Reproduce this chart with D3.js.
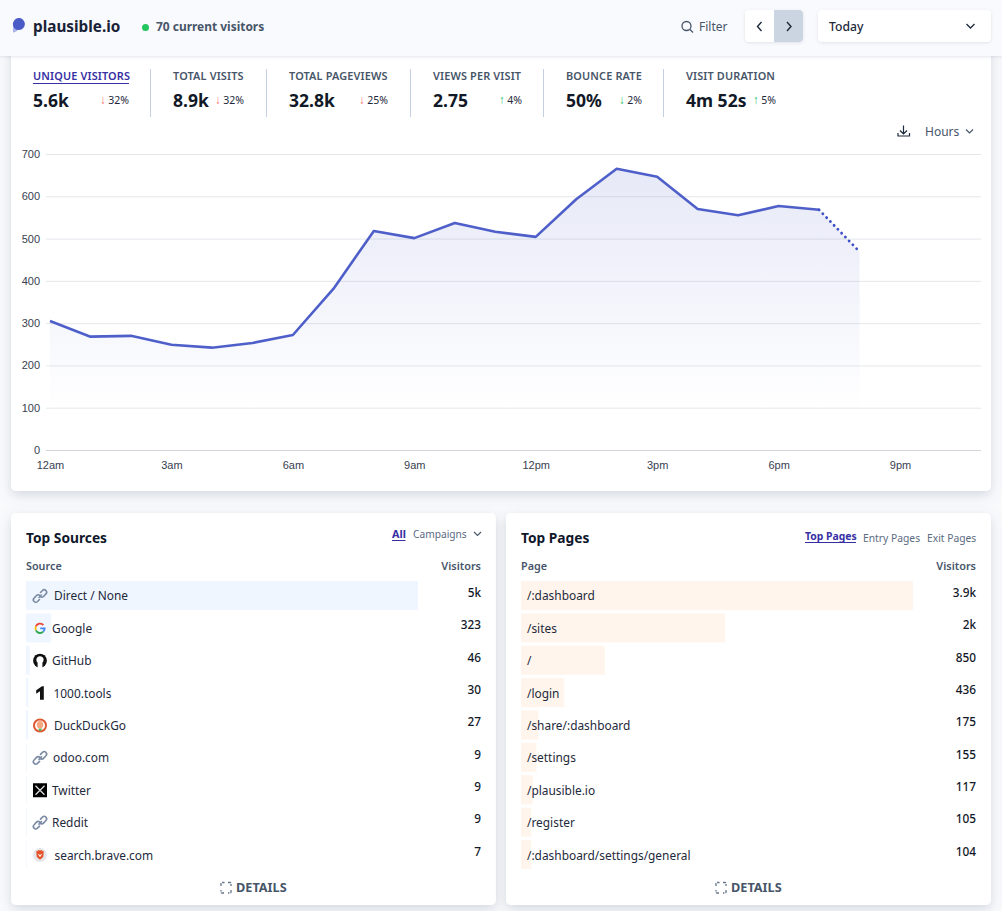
<!DOCTYPE html>
<html><head><meta charset="utf-8">
<script src="https://cdn.jsdelivr.net/npm/d3@7/dist/d3.min.js"></script>
<style>
html,body{margin:0;padding:0;background:#f9fafc;overflow:hidden}
svg{display:block}
text{font-family:"Noto Sans",sans-serif}
.tick text{font-family:"Liberation Sans",Arial,sans-serif}
</style></head><body>
<svg id="c" width="1002" height="911"></svg>
<script>
const hourLabels=["12am","3am","6am","9am","12pm","3pm","6pm","9pm"];
const hourTicks=[0,3,6,9,12,15,18,21];
const yTicks=[0,100,200,300,400,500,600,700];
const visitors=[305,268,270,249,242,253,272,381,518,501,537,516,504,593,665,646,570,555,577,568,469];
const metricNames=["UNIQUE VISITORS","TOTAL VISITS","TOTAL PAGEVIEWS","VIEWS PER VISIT","BOUNCE RATE","VISIT DURATION"];
const metricValues=["5.6k","8.9k","32.8k","2.75","50%","4m 52s"];
const metricChanges=["32%","32%","25%","4%","2%","5%"];
const metricArrows=["↓","↓","↓","↑","↓","↑"];
const sourceNames=["Direct / None","Google","GitHub","1000.tools","DuckDuckGo","odoo.com","Twitter","Reddit","search.brave.com"];
const sourceValues=[5000,323,46,30,27,9,9,9,7];
const sourceLabels=["5k","323","46","30","27","9","9","9","7"];
const sourceIcons=["link","google","github","tools","ddg","link","x","link","brave"];
const sourceTextX=[54,52,52,53.5,54,53,52,52,54.5];
const pageNames=["/:dashboard","/sites","/","/login","/share/:dashboard","/settings","/plausible.io","/register","/:dashboard/settings/general"];
const pageValues=[3940,2050,840,436,175,155,117,105,104];
const pageLabels=["3.9k","2k","850","436","175","155","117","105","104"];

const svg=d3.select("#c");
const defs=svg.append("defs");
const sh=defs.append("filter").attr("id","sh").attr("x","-5%").attr("y","-5%").attr("width","110%").attr("height","115%");
sh.append("feDropShadow").attr("dx",0).attr("dy",4).attr("stdDeviation",6).attr("flood-color","#64748b").attr("flood-opacity",0.25);
const sh2=defs.append("filter").attr("id","sh2").attr("x","-10%").attr("y","-20%").attr("width","120%").attr("height","150%");
sh2.append("feDropShadow").attr("dx",0).attr("dy",1).attr("stdDeviation",1.5).attr("flood-color","#64748b").attr("flood-opacity",0.18);
const grad=defs.append("linearGradient").attr("id","ag").attr("gradientUnits","userSpaceOnUse").attr("x1",0).attr("x2",0).attr("y1",110).attr("y2",410);
grad.append("stop").attr("offset",0).attr("stop-color","#6574cd").attr("stop-opacity",0.2);
grad.append("stop").attr("offset",1).attr("stop-color","#6574cd").attr("stop-opacity",0);

function t(p,x,y,s,size,fill,weight,anchor){
  return p.append("text").attr("x",x).attr("y",y).text(s).attr("font-size",size).attr("fill",fill)
    .attr("font-weight",weight||400).attr("text-anchor",anchor||"start");
}
function card(x,y,w,h){svg.append("rect").attr("x",x).attr("y",y).attr("width",w).attr("height",h).attr("rx",5).attr("fill","#fff").attr("filter","url(#sh)");}

// main card
card(11,40,980,451);
// header
svg.append("rect").attr("x",0).attr("y",0).attr("width",1002).attr("height",56).attr("fill","#f9fafd").attr("filter","url(#sh2)");
const logo=svg.append("g");
logo.append("path").attr("d","M13 24 a6 6 0 0 1 0 -1 l0 9 a0.600 0.600 0 0 0 0.800 0.500 a6 6 0 0 0 4.700 -3.500 z").attr("fill","#a8b2e8");
logo.append("path").attr("d","M13 25 a6 6 0 1 1 6 5 a6 6 0 0 1 -6 -5 z").attr("fill","#4a5bc8");
t(svg,33,32,"plausible.io",15.3,"#1a2238",700);
svg.append("circle").attr("cx",145.5).attr("cy",27.5).attr("r",3.5).attr("fill","#22c55e");
t(svg,156,31,"70 current visitors",11.95,"#475569",700);
const ic=svg.append("g").attr("fill","none").attr("stroke","#475569").attr("stroke-width",1.3);
ic.append("circle").attr("cx",686.5).attr("cy",26).attr("r",4.5);
ic.append("line").attr("x1",690).attr("y1",29.5).attr("x2",693).attr("y2",32.5);
t(svg,699,31,"Filter",12,"#475569",400);
svg.append("rect").attr("x",745).attr("y",10).attr("width",58).attr("height",32).attr("rx",4).attr("fill","#fff").attr("filter","url(#sh2)");
svg.append("path").attr("d","M774 10 h25 a4 4 0 0 1 4 4 v24 a4 4 0 0 1 -4 4 h-25 z").attr("fill","#cbd5e1");
svg.append("path").attr("d","M761.5 22 L757.5 26.500 L761.500 31").attr("fill","none").attr("stroke","#1e293b").attr("stroke-width",1.4);
svg.append("path").attr("d","M787 22 L791 26.500 L787 31").attr("fill","none").attr("stroke","#1e293b").attr("stroke-width",1.4);
svg.append("rect").attr("x",818).attr("y",10).attr("width",173).attr("height",32).attr("rx",4).attr("fill","#fff").attr("filter","url(#sh2)");
t(svg,829,31,"Today",12.2,"#1e293b",500);
svg.append("path").attr("d","M966.500 24 L970.500 28 L974.500 24").attr("fill","none").attr("stroke","#1e293b").attr("stroke-width",1.3);

// metrics
const mX=[33,173,289,433,566,686];
const chgRight=[129,244,388,522,642,776];
const sepX=[150.5,266.5,410.5,543.5,663.5];
sepX.forEach(x=>svg.append("line").attr("x1",x).attr("x2",x).attr("y1",69).attr("y2",117).attr("stroke","#c4d0e0"));
metricNames.forEach((n,i)=>{
  const active=i===0;
  t(svg,mX[i],80,n,10.9,active?"#3730a3":"#475569",600).attr("letter-spacing",0.15);
  t(svg,mX[i],107,metricValues[i],17.5,"#111827",700);
  const lab=t(svg,chgRight[i],104,metricChanges[i],10.5,"#1e293b",400,"end");
  const w=lab.node().getComputedTextLength();
  const up=metricArrows[i]==="↑";
  const good=up||i===4;
  t(svg,chgRight[i]-w-2.5,104,metricArrows[i],12,good?"#22c55e":"#f87171",600,"end");
});
svg.append("line").attr("x1",33).attr("x2",129).attr("y1",83.5).attr("y2",83.5).attr("stroke","#3730a3");

// top right of chart
const dl=svg.append("g").attr("fill","none").attr("stroke","#1e293b").attr("stroke-width",1.2);
dl.append("path").attr("d","M903.500 125.500 v8 M900 130.500 l3.500 3.500 l3.500 -3.500 M898 133 v3 h11.500 v-3");
t(svg,925,136,"Hours",12,"#475569",400);
svg.append("path").attr("d","M966 129.500 l3.500 3.500 l3.500 -3.500").attr("fill","none").attr("stroke","#475569").attr("stroke-width",1.2);

// chart
const x=d3.scaleLinear().domain([0,23]).range([50,981]);
const y=d3.scaleLinear().domain([0,700]).range([450,154]);
const gy=svg.append("g").attr("transform","translate(46,0)").call(d3.axisLeft(y).tickValues(yTicks).tickSize(-935).tickPadding(6));
gy.select(".domain").remove();
gy.selectAll(".tick line").attr("stroke","#e5e7eb").attr("stroke-width",1);
gy.selectAll(".tick").filter(d=>d===0).select("line").attr("stroke","#d1d5db");
gy.selectAll(".tick text").attr("font-size",11).attr("fill","#374151");
const gx=svg.append("g").attr("transform","translate(0,450)").call(d3.axisBottom(x).tickValues(hourTicks).tickFormat((d,i)=>hourLabels[i]).tickSize(0).tickPadding(11));
gx.select(".domain").remove();
gx.selectAll(".tick text").attr("font-size",11).attr("fill","#374151");

const pts=visitors.map((v,i)=>[i,v]);
const solid=pts.slice(0,20), dotted=pts.slice(19);
const area=d3.area().x(d=>x(d[0])).y0(y(0)).y1(d=>y(d[1]));
const line=d3.line().x(d=>x(d[0])).y(d=>y(d[1]));
[solid,dotted].forEach(s=>svg.append("path").attr("d",area(s)).attr("fill","url(#ag)"));
svg.append("path").attr("d",line(solid)).attr("fill","none").attr("stroke","#4f5fc9").attr("stroke-width",2.6).attr("stroke-linejoin","round");
svg.append("path").attr("d",line(dotted)).attr("fill","none").attr("stroke","#3f50c4").attr("stroke-width",2.8).attr("stroke-linecap","round").attr("stroke-dasharray","0.1 5.3");

// icons
function icon(g,kind,cx,cy){
  const a=g.append("g").attr("transform",`translate(${cx},${cy})`);
  if(kind==="link"){
    a.attr("fill","none").attr("stroke","#7b8ba3").attr("stroke-width",1.6).attr("stroke-linecap","round");
    a.append("path").attr("d","M-1 1.500 L1.500 -1 M0.500 -3.500 L2.500 -5.500 a2.400 2.400 0 0 1 3.400 3.400 L3.500 0.500 a2.400 2.400 0 0 1 -3.400 0");
    a.append("path").attr("d","M-0.500 3.500 L-2.500 5.500 a2.400 2.400 0 0 1 -3.400 -3.400 L-3.500 -0.500 a2.400 2.400 0 0 1 3.400 0");
  } else if(kind==="google"){
    a.attr("fill","none").attr("stroke-width",1.9);
    a.append("path").attr("d","M3.400 -3.400 A4.600 4.600 0 0 0 -4.100 -2").attr("stroke","#ea4335");
    a.append("path").attr("d","M-4.100 -2 A4.600 4.600 0 0 0 -4.100 2").attr("stroke","#fbbc05");
    a.append("path").attr("d","M-4.100 2 A4.600 4.600 0 0 0 3.300 3.300").attr("stroke","#34a853");
    a.append("path").attr("d","M3.300 3.300 A4.600 4.600 0 0 0 4.600 0 H0.300").attr("stroke","#4285f4");
  } else if(kind==="github"){
    a.append("circle").attr("r",6.900).attr("fill","#111");
    a.append("circle").attr("cy",-1).attr("r",3.600).attr("fill","#fff");
    a.append("rect").attr("x",-2.400).attr("y",2).attr("width",4.800).attr("height",5.500).attr("fill","#fff");
    a.append("path").attr("d","M-5.500 -5.500 L-3.500 -3 L-1 -5 Z M5.500 -5.500 L3.500 -3 L1 -5 Z").attr("fill","#111");
  } else if(kind==="tools"){
    a.append("path").attr("d","M-3.800 -2.800 L2 -7 H3.800 V6.500 H0 V-1.800 L-3.800 0.500 Z").attr("fill","#111");
  } else if(kind==="ddg"){
    a.append("circle").attr("r",7).attr("fill","#de5833");
    a.append("circle").attr("r",5).attr("fill","#fff");
    a.append("ellipse").attr("cy",-0.800).attr("rx",3.200).attr("ry",3.800).attr("fill","#f7a77f");
    a.append("path").attr("d","M-1.500 3 h3.500 l-1 2.500 h-2 z").attr("fill","#5cb85c");
  } else if(kind==="x"){
    a.append("rect").attr("x",-7).attr("y",-7).attr("width",14).attr("height",14).attr("fill","#000");
    a.append("path").attr("d","M-4.500 -4.500 L4.500 4.500 M4.500 -4.500 L-4.500 4.500").attr("stroke","#ddd").attr("stroke-width",1.300);
  } else if(kind==="brave"){
    a.append("circle").attr("r",7).attr("fill","#e4e7eb");
    a.append("path").attr("d","M-3.800 -3.600 L-1.500 -4.800 H1.500 L3.800 -3.600 L3.200 2 L0 4.800 L-3.200 2 Z").attr("fill","#e8542a");
    a.append("path").attr("d","M-1.500 -1 L0 1.500 L1.500 -1").attr("fill","none").attr("stroke","#fff").attr("stroke-width",1);
  }
}
function detailsIcon(g,cx,cy){
  g.append("path").attr("d",`M${cx-5} ${cy-2} v-2.500 a1 1 0 0 1 1 -1 h2.500 M${cx+2} ${cy-5.500} h2 a1 1 0 0 1 1 1 v2.500 M${cx+5} ${cy+2} v2 a1 1 0 0 1 -1 1 h-2 M${cx-2} ${cy+5} h-2 a1 1 0 0 1 -1 -1 v-2`)
   .attr("fill","none").attr("stroke","#64748b").attr("stroke-width",1.300).attr("stroke-dasharray","3 1");
}

// lists
const rowY=d3.scaleLinear().domain([0,8]).range([581,840]);
function panel(o){
  card(o.x,513,485,392);
  t(svg,o.x+15,543,o.title,13.75,"#0f172a",700);
  t(svg,o.x+15,570,o.col,10.8,"#475569",600);
  t(svg,o.x+470,570,"Visitors",10.9,"#475569",600,"end");
  const w=d3.scaleLinear().domain([0,d3.max(o.values)]).range([0,392]);
  o.names.forEach((n,i)=>{
    const ry=rowY(i);
    svg.append("rect").attr("x",o.x+15).attr("y",ry).attr("width",w(o.values[i])).attr("height",29).attr("fill",o.color);
    if(o.icons) icon(svg,o.icons[i],40,ry+15);
    t(svg,o.textX?o.textX[i]:o.x+21,ry+(i===0?19:19.5),n,11.9,"#1e293b",400);
    t(svg,o.x+470,ry+15.8,o.labels[i],11.8,"#111827",500,"end");
  });
  detailsIcon(svg,o.x+215,888);
  t(svg,o.x+225,892,"DETAILS",12.7,"#475569",700);
}
panel({x:11,title:"Top Sources",col:"Source",names:sourceNames,values:sourceValues,labels:sourceLabels,icons:sourceIcons,textX:sourceTextX,color:"#eff6ff"});
panel({x:506,title:"Top Pages",col:"Page",names:pageNames,values:pageValues,labels:pageLabels,color:"#fff5ec"});

// tabs
t(svg,392,538,"All",10.8,"#3730a3",700);
svg.append("line").attr("x1",392).attr("x2",405.5).attr("y1",540.5).attr("y2",540.5).attr("stroke","#3730a3");
t(svg,413,538,"Campaigns",10.2,"#5b6b82",400);
svg.append("path").attr("d","M474 532 l3.500 3.500 l3.500 -3.500").attr("fill","none").attr("stroke","#475569").attr("stroke-width",1.100);
t(svg,805,540,"Top Pages",10.4,"#3730a3",700);
svg.append("line").attr("x1",805).attr("x2",856).attr("y1",542.500).attr("y2",542.500).attr("stroke","#3730a3");
t(svg,863,542,"Entry Pages",10.3,"#5b6b82",400);
t(svg,927,542,"Exit Pages",10.3,"#5b6b82",400);
</script>
</body></html>
